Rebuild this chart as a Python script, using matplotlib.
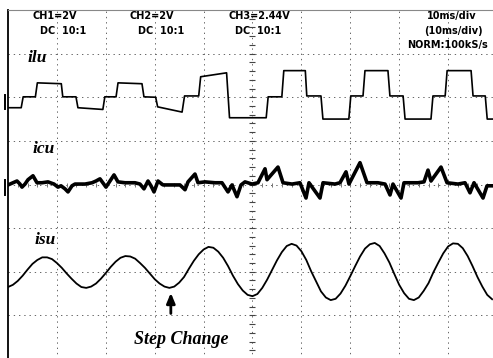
import numpy as np
import matplotlib.pyplot as plt

# scope screen: 10 ms/div horizontally (100 ms), 8 div vertically
# ilu : multilevel inverter current (vertices of the stepped trace)
ilu_t = [0.0, 2.7, 3.1, 5.6, 6.0, 10.9, 11.2, 13.9, 14.3, 19.4, 19.8, 22.1, 22.5,
         27.4, 27.8, 30.2, 30.6, 35.6, 36.1, 39.0, 39.4, 44.7, 45.3, 52.8, 53.2,
         56.0, 56.4, 60.8, 61.1, 64.0, 64.4, 69.7, 70.1, 72.6, 73.0, 77.7, 78.1,
         80.8, 81.2, 86.5, 86.9, 89.4, 89.8, 94.7, 95.1, 97.6, 98.0, 100.0]
ilu_v = [5.76, 5.76, 6.01, 6.01, 6.33, 6.31, 6.01, 6.01, 5.76, 5.72, 6.01, 6.01, 6.33,
         6.31, 6.01, 6.00, 5.78, 5.66, 6.03, 6.03, 6.47, 6.56, 5.53, 5.53, 6.01,
         6.01, 6.61, 6.61, 6.03, 6.03, 5.50, 5.50, 6.03, 6.03, 6.61, 6.61, 6.03,
         6.03, 5.50, 5.50, 6.03, 6.03, 6.61, 6.61, 6.03, 6.03, 5.50, 5.50]

# icu : compensating current
icu_t = [0.0, 1.02, 1.84, 2.45, 2.86, 3.48, 4.09, 5.11, 5.93, 6.95, 8.18, 9.41,
         10.22, 10.84, 11.66, 12.27, 13.09, 13.70, 15.75, 17.18, 18.0, 18.81,
         20.04, 21.68, 22.49, 23.93, 25.97, 26.99, 27.81, 28.63, 29.24, 29.86,
         30.67, 31.70, 33.13, 35.17, 36.20, 36.81, 38.24, 38.85, 40.29, 42.33,
         43.76, 44.99, 45.81, 46.83, 47.65, 48.47, 49.90, 51.12, 52.56, 52.97,
         55.21, 56.24, 58.08, 59.71, 60.94, 61.55, 63.80, 64.42, 66.87, 67.89,
         69.12, 69.73, 71.98, 73.42, 75.66, 77.10, 78.12, 78.73, 80.37, 80.98,
         83.84, 85.07, 85.89, 86.50, 88.55, 89.78, 92.02, 93.46, 94.48, 95.30,
         97.14, 97.96, 99.18]
icu_v = [3.99, 4.04, 4.08, 4.01, 3.94, 4.01, 4.11, 4.20, 4.04, 4.04, 4.06, 4.01,
         3.94, 3.97, 3.90, 3.83, 3.97, 4.01, 4.01, 4.04, 4.08, 4.13,
         3.94, 4.22, 4.06, 4.04, 4.04, 4.01, 3.90, 4.08, 3.97, 3.83,
         4.08, 3.99, 3.99, 3.99, 3.88, 4.06, 4.24, 4.04, 4.06, 4.04,
         4.04, 3.83, 3.99, 3.72, 3.99, 4.06, 4.01, 4.04, 4.36, 4.11,
         4.40, 4.04, 4.01, 4.04, 3.69, 4.04, 3.69, 4.04, 4.01, 4.04,
         4.29, 4.01, 4.50, 4.04, 4.04, 4.01, 3.76, 4.01, 3.69, 4.04,
         4.04, 4.06, 4.33, 4.08, 4.40, 4.04, 4.01, 4.04, 3.81, 4.04,
         3.69, 3.97, 3.97]

# isu : source current, one sample per ms
isu_v = [1.65, 1.70, 1.79, 1.91, 2.05, 2.18, 2.27, 2.33, 2.33, 2.29,
         2.20, 2.09, 1.96, 1.84, 1.73, 1.65, 1.63, 1.66, 1.73, 1.84,
         1.97, 2.11, 2.23, 2.32, 2.36, 2.35, 2.30, 2.20, 2.09, 1.96,
         1.83, 1.73, 1.66, 1.63, 1.66, 1.75, 1.88, 2.07, 2.25, 2.40,
         2.51, 2.57, 2.55, 2.46, 2.32, 2.13, 1.91, 1.72, 1.57, 1.47,
         1.44, 1.49, 1.63, 1.82, 2.04, 2.26, 2.45, 2.59, 2.64, 2.60,
         2.47, 2.27, 2.01, 1.78, 1.55, 1.41, 1.35, 1.38, 1.50, 1.68,
         1.90, 2.13, 2.35, 2.53, 2.63, 2.66, 2.59, 2.42, 2.21, 1.95,
         1.70, 1.51, 1.38, 1.35, 1.41, 1.56, 1.74, 1.99, 2.21, 2.42,
         2.58, 2.65, 2.64, 2.54, 2.36, 2.13, 1.88, 1.66, 1.47, 1.37]
isu_t = np.arange(len(isu_v))

step_t = 33.3

fig = plt.figure(figsize=(4.93, 3.58), dpi=100)
ax = fig.add_axes([8 / 493, -1 / 358, 489 / 493, 349 / 358])
ax.set_xlim(0, 100)
ax.set_ylim(0, 8)
ax.set_xticks([])
ax.set_yticks([])
for pos in ['right', 'bottom']:
    ax.spines[pos].set_visible(False)
ax.spines['left'].set_linewidth(1.3)
ax.spines['top'].set_linewidth(0.8)
ax.spines['top'].set_color('#888888')

# dotted graticule
dots = (0, (1.4, 4))
for x in range(10, 100, 10):
    ax.axvline(x, color='#666666', lw=0.7, ls=dots, zorder=1)
for y in range(1, 8):
    ax.axhline(y, color='#666666', lw=0.7, ls=dots, zorder=1)
# minor ticks on the centre axes
ax.plot(np.full(39, 50.0), np.arange(0.2, 8, 0.2), ls='none', marker='_',
        ms=5, mew=0.8, color='#444444', zorder=1)
ax.plot(np.arange(2, 100, 2), np.full(49, 4.0), ls='none', marker='|',
        ms=3, mew=0.7, color='#777777', zorder=1)

# traces
ax.plot(ilu_t, ilu_v, color='black', lw=1.2, zorder=3)
ax.plot(icu_t, icu_v, color='black', lw=2.6, zorder=3)
ax.plot(isu_t, isu_v, color='black', lw=1.3, zorder=3)

# channel ground markers
ax.plot([-0.6, -0.6], [5.73, 6.06], color='black', lw=1.4, clip_on=False)
ax.plot([-0.6, -0.6], [3.77, 4.11], color='black', lw=1.4, clip_on=False)

# header readouts
hdr = dict(family='DejaVu Sans', fontweight='bold', fontsize=7, va='center')
ax.text(5.1, 7.87, 'CH1=2V', ha='left', **hdr)
ax.text(6.5, 7.52, 'DC  10:1', ha='left', **hdr)
ax.text(24.9, 7.87, 'CH2=2V', ha='left', **hdr)
ax.text(26.6, 7.52, 'DC  10:1', ha='left', **hdr)
ax.text(45.0, 7.87, 'CH3=2.44V', ha='left', **hdr)
ax.text(46.4, 7.52, 'DC  10:1', ha='left', **hdr)
ax.text(95.9, 7.87, '10ms/div', ha='right', **hdr)
ax.text(97.1, 7.52, '(10ms/div)', ha='right', **hdr)
ax.text(98.2, 7.20, 'NORM:100kS/s', ha='right', **hdr)

# trace labels
lab = dict(family='Liberation Serif', fontweight='bold', style='italic',
           fontsize=12.5, va='center', ha='left')
ax.text(3.9, 6.90, 'ilu', **lab)
ax.text(5.1, 4.82, 'icu', **lab)
ax.text(5.5, 2.73, 'isu', **lab)

ax.annotate('', xy=(step_t, 1.58), xytext=(step_t, 0.98),
            arrowprops=dict(arrowstyle='-|>,head_width=0.25,head_length=0.6',
                            color='black', lw=2))
ax.text(35.5, 0.44, 'Step Change', family='Liberation Serif', fontweight='bold',
        style='italic', fontsize=13, ha='center', va='center')

fig.savefig('out.png', dpi=100)
